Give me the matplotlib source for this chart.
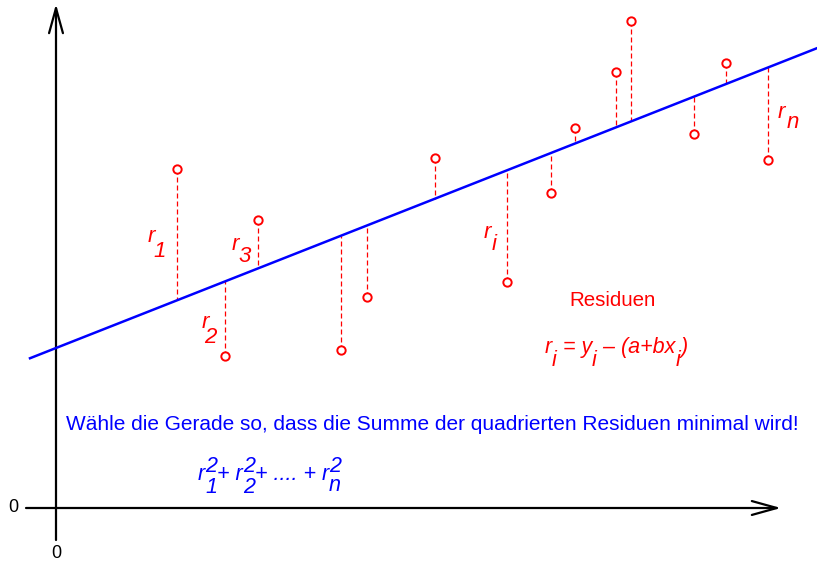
import matplotlib
matplotlib.use("Agg")
import matplotlib.pyplot as plt
from matplotlib.transforms import offset_copy

plt.rcParams["font.family"] = ["Liberation Sans", "DejaVu Sans"]

# data points (x, y)
x_pts = [12.1, 16.9, 20.2, 28.5, 31.1, 37.9, 45.1, 49.5, 51.9, 56.0, 57.5, 63.8, 67.0, 71.2]
y_pts = [33.9, 15.2, 28.8, 15.8, 21.1, 35.0, 22.6, 31.5, 38.0, 43.6, 48.7, 37.4, 44.5, 34.8]

# fitted line y = a + b*x
a_fit = 16.0
b_fit = 0.394
line_x = [-2.6, 76.1]

# residual labels: subscript, position of "r", subscript offset in pixels
res_subs = ["1", "2", "3", "i", "n"]
res_lab_x = [9.2, 14.6, 17.6, 42.8, 72.2]
res_lab_y = [26.6, 18.0, 25.8, 27.0, 39.0]
res_sub_dx = [5, 2, 6, 8, 9]
res_sub_dy = [-15, -15, -12, -12, -10]

red = "#ff0000"
blue = "#0000ff"

fig = plt.figure(figsize=(8.17, 5.65), dpi=100)
ax = fig.add_axes([0, 0, 1, 1])
ax.set_xlim(-5.6, 76.1)
ax.set_ylim(-5.7, 50.8)
ax.axis("off")

# axes with arrows
ax.annotate("", xy=(72.5, 0), xytext=(-3.0, 0),
            arrowprops=dict(arrowstyle="->,head_length=1.8,head_width=0.5",
                            lw=1.6, color="black", shrinkA=0, shrinkB=0))
ax.annotate("", xy=(0, 50.4), xytext=(0, -3.2),
            arrowprops=dict(arrowstyle="->,head_length=1.8,head_width=0.5",
                            lw=1.6, color="black", shrinkA=0, shrinkB=0))
ax.text(-4.3, 0, "0", ha="center", va="center", fontsize=13)
ax.text(0, -4.5, "0", ha="center", va="center", fontsize=13)

# regression line
ax.plot(line_x, [a_fit + b_fit * v for v in line_x], color=blue, lw=1.8, zorder=3)

# residuals
fit_y = [a_fit + b_fit * v for v in x_pts]
ax.vlines(x_pts, y_pts, fit_y, colors=red, linestyles=(0, (4, 2.4)), lw=0.9, zorder=2)
ax.plot(x_pts, y_pts, "o", mfc="white", mec=red, ms=6, mew=1.4, zorder=4)

renderer = fig.canvas.get_renderer()


def draw_parts(x, y, parts, color, size):
    # parts: (text, dy in pixels, advance?)
    dx = 0
    for s, dy, adv in parts:
        tr = offset_copy(ax.transData, fig=fig, x=dx, y=dy, units="dots")
        t = ax.text(x, y, s, transform=tr, color=color, fontsize=size,
                    fontstyle="italic", ha="left", va="baseline")
        if adv:
            dx += t.get_window_extent(renderer).width


# residual labels
for s, lx, ly, sdx, sdy in zip(res_subs, res_lab_x, res_lab_y, res_sub_dx, res_sub_dy):
    ax.text(lx, ly, "r", color=red, fontsize=16, fontstyle="italic", va="baseline")
    tr = offset_copy(ax.transData, fig=fig, x=sdx, y=sdy, units="dots")
    ax.text(lx, ly, s, transform=tr, color=red, fontsize=16, fontstyle="italic", va="baseline")

ax.text(55.7, 20.2, "Residuen", color=red, fontsize=14.8, ha="center", va="baseline")

draw_parts(48.9, 15.5, [("r", 0, True), ("i", -13, True), (" = y", 0, True), ("i", -13, True),
                        (" \u2013 (a+bx", 0, True), ("i", -13, True), (")", 0, True)], red, 15.5)

ax.text(37.6, 8.4, "W\u00e4hle die Gerade so, dass die Summe der quadrierten Residuen minimal wird!",
        color=blue, fontsize=15, ha="center", va="center")

draw_parts(14.2, 2.8, [("r", 0, True), ("2", 8, False), ("1", -13, True), ("+ r", 0, True),
                       ("2", 8, False), ("2", -13, True), ("+ .... + r", 0, True),
                       ("2", 8, False), ("n", -11, True)], blue, 15.5)

fig.savefig("out.png", dpi=100)
